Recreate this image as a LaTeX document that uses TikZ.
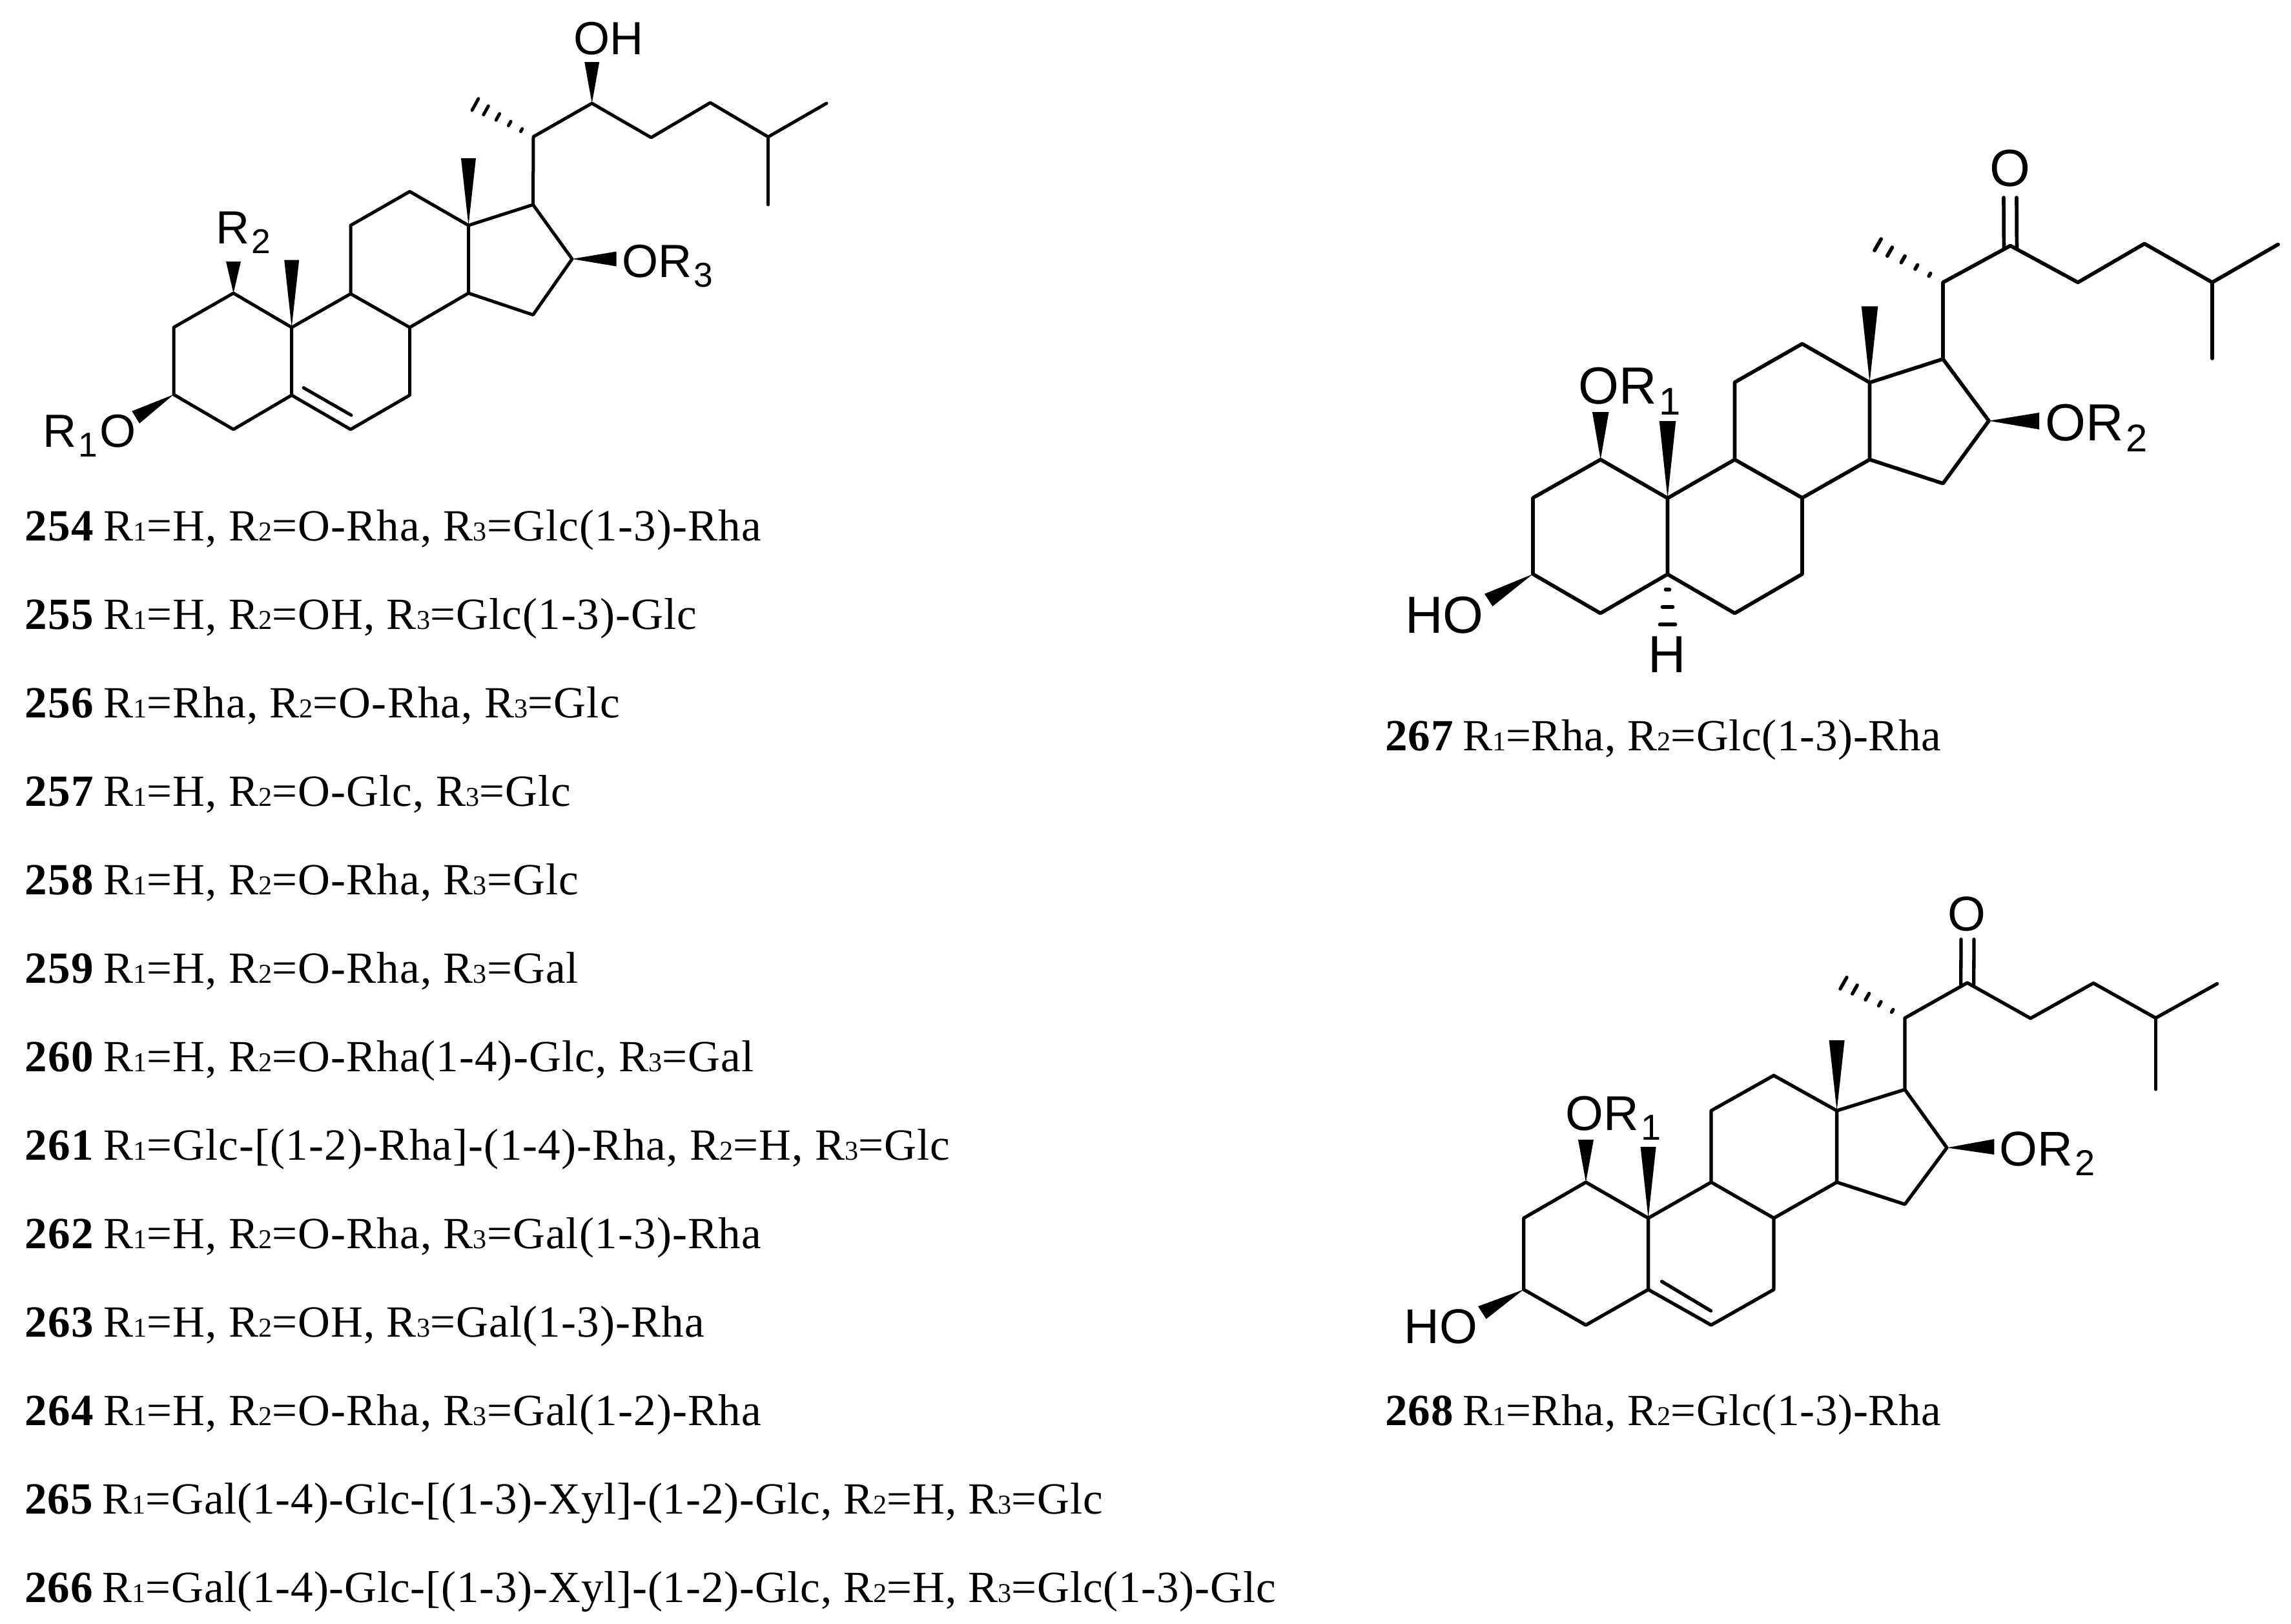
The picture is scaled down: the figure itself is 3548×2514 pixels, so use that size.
\documentclass[tikz,border=0pt]{standalone}
\usepackage{fontspec}
\setmainfont{Liberation Serif}[LetterSpace=1.7]
\newfontfamily\tightfont{Liberation Serif}[LetterSpace=1.2]
\newfontfamily\tighterfont{Liberation Serif}[LetterSpace=1.0]
\newfontfamily\atomfont{Liberation Sans}
\usetikzlibrary{calc}

\newcommand{\nb}[1]{\textbf{#1}\hspace{-.06em}}
\newcommand{\rs}[1]{{\fontsize{12pt}{12pt}\selectfont #1}}
\newcommand{\cs}[1]{\kern.04em\raisebox{-0.21em}{\scalebox{.74}{#1}}\kern.04em}
\newcommand{\hashbond}[3]{%
  \foreach \t/\w in {.2/.024,.4/.037,.6/.057,.8/.077,.98/.102}
    \draw[#3] ($(#1)!\t!(#2)!\w cm!90:(#2)$) -- ($(#1)!\t!(#2)!\w cm!-90:(#2)$);}

\tikzset{
  bonda/.style={line width=.05cm, line join=round, line cap=round},
  bondb/.style={line width=.057cm, line join=round, line cap=round},
  bondc/.style={line width=.053cm, line join=round, line cap=round},
  wedge/.style={fill=black, draw=none},
  atoma/.style={anchor=base west, inner sep=0pt, font=\atomfont\fontsize{20.5pt}{21pt}\selectfont},
  atomb/.style={anchor=base west, inner sep=0pt, font=\atomfont\fontsize{23pt}{24pt}\selectfont},
  atomc/.style={anchor=base west, inner sep=0pt, font=\atomfont\fontsize{21.5pt}{22pt}\selectfont},
  row/.style={anchor=base west, inner sep=0pt, font=\fontsize{19.63pt}{20pt}\selectfont},
  rowt/.style={row, font=\tightfont\fontsize{19.63pt}{20pt}\selectfont},
  rowr/.style={row, font=\tighterfont\fontsize{19.63pt}{20pt}\selectfont}
}

\begin{document}
\begin{tikzpicture}[x=.01cm, y=-.01cm]
  \useasboundingbox (0,0) rectangle (3548,2514);

  % first skeleton, 254-266
  \coordinate (a1) at (361.5,454);
  \coordinate (a2) at (269,507);
  \coordinate (a3) at (269,611);
  \coordinate (a4) at (361.5,665);
  \coordinate (a5) at (451.7,612);
  \coordinate (a6) at (543,665);
  \coordinate (a7) at (634.5,612);
  \coordinate (a8) at (634.5,507);
  \coordinate (a9) at (543,455);
  \coordinate (a10) at (451.7,507);
  \coordinate (a11) at (543,349);
  \coordinate (a12) at (634.5,296.6);
  \coordinate (a13) at (725.5,349);
  \coordinate (a14) at (725.5,454);
  \coordinate (a15) at (825.5,487.6);
  \coordinate (a16) at (886,401);
  \coordinate (a17) at (825.5,317);
  \coordinate (a20) at (826,211.7);
  \coordinate (a21) at (734.2,160.7);
  \coordinate (a22) at (916.7,160);
  \coordinate (a23) at (1008.4,213);
  \coordinate (a24) at (1100,159);
  \coordinate (a25) at (1189.6,212);
  \coordinate (a26) at (1280,160);
  \coordinate (a27) at (1189.6,317);
  \coordinate (a5d) at (470,600.5);
  \coordinate (a6d) at (544,643);
  \coordinate (a18) at (725.5,245);
  \coordinate (a19) at (451.7,402.7);
  \coordinate (a1r) at (361.5,405);
  \coordinate (a22o) at (916.7,96);
  \coordinate (a16o) at (954.6,401);
  \coordinate (a3ou) at (204.3,636.7);
  \coordinate (a3od) at (216,655.7);

  \node[atoma] (r2a) at (334,377) {R\cs{2}};
  \node[atoma] (oha) at (888,84) {OH};
  \node[atoma] (or3a) at (962.5,429) {OR\cs{3}};
  \node[atoma] (r1a) at (66,692.7) {R\cs{1}O};

  % rings and side chain
  \draw[bonda] (a1) -- (a2) -- (a3) -- (a4) -- (a5) -- (a10) -- cycle;
  \draw[bonda] (a5) -- (a6) -- (a7) -- (a8) -- (a9) -- (a10);
  \draw[bonda] (a9) -- (a11) -- (a12) -- (a13) -- (a14) -- (a8);
  \draw[bonda] (a13) -- (a17) -- (a16) -- (a15) -- (a14);
  \draw[bonda] (a17) -- (a20) -- (a22) -- (a23) -- (a24) -- (a25) -- (a26);
  \draw[bonda] (a25) -- (a27);
  \draw[bonda] (a5d) -- (a6d);
  % wedges
  \fill[wedge] (a13) -- ($(a18)+(-11.5,0)$) -- ($(a18)+(11.5,0)$) -- cycle;
  \fill[wedge] (a10) -- ($(a19)+(-11.5,0)$) -- ($(a19)+(11.5,0)$) -- cycle;
  \fill[wedge] (a1) -- ($(a1r)+(-11.5,0)$) -- ($(a1r)+(11.5,0)$) -- cycle;
  \fill[wedge] (a22) -- ($(a22o)+(-11.5,0)$) -- ($(a22o)+(11.5,0)$) -- cycle;
  \fill[wedge] (a16) -- ($(a16o)+(0,-11.5)$) -- ($(a16o)+(0,11.5)$) -- cycle;
  \fill[wedge] (a3) -- (a3ou) -- (a3od) -- cycle;
  \hashbond{a20}{a21}{bonda}

  % second skeleton, 267
  \coordinate (b1) at (2478.7,711.7);
  \coordinate (b2) at (2374,771);
  \coordinate (b3) at (2374,889);
  \coordinate (b4) at (2478.4,949.7);
  \coordinate (b5) at (2582.5,889.3);
  \coordinate (b6) at (2686.5,949.7);
  \coordinate (b7) at (2791,889);
  \coordinate (b8) at (2791,771);
  \coordinate (b9) at (2686.5,711.7);
  \coordinate (b10) at (2582.5,771.5);
  \coordinate (b11) at (2686.5,592);
  \coordinate (b12) at (2791,532.4);
  \coordinate (b13) at (2895.5,592.4);
  \coordinate (b14) at (2895.5,711.7);
  \coordinate (b15) at (3009,748.7);
  \coordinate (b16) at (3080,651.7);
  \coordinate (b17) at (3009,556);
  \coordinate (b20) at (3009,437.3);
  \coordinate (b21) at (2906,377.8);
  \coordinate (b22) at (3113.4,380.5);
  \coordinate (b23) at (3218,437.3);
  \coordinate (b24) at (3321,377.4);
  \coordinate (b25) at (3426,437.3);
  \coordinate (b26) at (3528,378.5);
  \coordinate (b27) at (3426,555);
  \coordinate (b18) at (2895.5,474.3);
  \coordinate (b19) at (2582.5,652);
  \coordinate (b1o) at (2478.7,638);
  \coordinate (b16o) at (3158,652);
  \coordinate (b3ou) at (2299,919.7);
  \coordinate (b3od) at (2311.5,939);
  \coordinate (bo) at (3113,306);

  \node[atomb] (or1b) at (2444,625) {OR\cs{1}};
  \node[atomb] (or2b) at (3167,682) {OR\cs{2}};
  \node[atomb] (hob) at (2175.5,980) {HO};
  \node[atomb, anchor=base] (hb) at (2581.7,1041) {H};
  \node[atomb, anchor=base] (ob) at (3112.5,288) {O};

  \draw[bondb] (b1) -- (b2) -- (b3) -- (b4) -- (b5) -- (b10) -- cycle;
  \draw[bondb] (b5) -- (b6) -- (b7) -- (b8) -- (b9) -- (b10);
  \draw[bondb] (b9) -- (b11) -- (b12) -- (b13) -- (b14) -- (b8);
  \draw[bondb] (b13) -- (b17) -- (b16) -- (b15) -- (b14);
  \draw[bondb] (b17) -- (b20) -- (b22) -- (b23) -- (b24) -- (b25) -- (b26);
  \draw[bondb] (b25) -- (b27);
  % carbonyl
  \draw[bondb] ($(b22)+(-10,3)$) -- ($(bo)+(-10,0)$);
  \draw[bondb] ($(b22)+(10,3)$) -- ($(bo)+(10,0)$);
  % wedges
  \fill[wedge] (b13) -- ($(b18)+(-12.8,0)$) -- ($(b18)+(12.8,0)$) -- cycle;
  \fill[wedge] (b10) -- ($(b19)+(-12.8,0)$) -- ($(b19)+(12.8,0)$) -- cycle;
  \fill[wedge] (b1) -- ($(b1o)+(-12.8,0)$) -- ($(b1o)+(12.8,0)$) -- cycle;
  \fill[wedge] (b16) -- ($(b16o)+(0,-13)$) -- ($(b16o)+(0,13)$) -- cycle;
  \fill[wedge] (b3) -- (b3ou) -- (b3od) -- cycle;
  \hashbond{b20}{b21}{bondb}
  % hydrogen dashes
  \draw[bondb] ($(b5)+(-3,23.5)$) -- ($(b5)+(3,23.5)$);
  \draw[bondb] ($(b5)+(-8,51)$) -- ($(b5)+(8,51)$);
  \draw[bondb] ($(b5)+(-12,78)$) -- ($(b5)+(12,78)$);

  % third skeleton, 268
  \coordinate (c1) at (2456,1830.8);
  \coordinate (c2) at (2359.7,1886.4);
  \coordinate (c3) at (2359.7,1997);
  \coordinate (c4) at (2456,2052);
  \coordinate (c5) at (2552.6,1997);
  \coordinate (c6) at (2650,2052);
  \coordinate (c7) at (2747,1997);
  \coordinate (c8) at (2747,1886.4);
  \coordinate (c9) at (2650,1830.8);
  \coordinate (c10) at (2552.6,1886.4);
  \coordinate (c11) at (2650,1720);
  \coordinate (c12) at (2747,1665.5);
  \coordinate (c13) at (2844.6,1720);
  \coordinate (c14) at (2844.6,1830.8);
  \coordinate (c15) at (2950,1865);
  \coordinate (c16) at (3015,1777.4);
  \coordinate (c17) at (2950,1687.3);
  \coordinate (c20) at (2950,1576.5);
  \coordinate (c21) at (2853,1521.4);
  \coordinate (c22) at (3046.7,1522);
  \coordinate (c23) at (3144.6,1577);
  \coordinate (c24) at (3242,1522.5);
  \coordinate (c25) at (3338.4,1576.5);
  \coordinate (c26) at (3433.5,1523.5);
  \coordinate (c27) at (3338.4,1687);
  \coordinate (c5d) at (2573.5,1984.5);
  \coordinate (c6d) at (2649.5,2030);
  \coordinate (c18) at (2844.6,1611);
  \coordinate (c19) at (2552.6,1776);
  \coordinate (c1o) at (2456,1764.8);
  \coordinate (c16o) at (3088.4,1776);
  \coordinate (c3ou) at (2289,2023);
  \coordinate (c3od) at (2301.6,2042.6);
  \coordinate (co) at (3047,1454.6);

  \node[atomc] (or1c) at (2424,1750) {OR\cs{1}};
  \node[atomc] (or2c) at (3096,1805) {OR\cs{2}};
  \node[atomc] (hoc) at (2174,2080) {HO};
  \node[atomc, anchor=base] (oc) at (3046,1441.5) {O};

  \draw[bondc] (c1) -- (c2) -- (c3) -- (c4) -- (c5) -- (c10) -- cycle;
  \draw[bondc] (c5) -- (c6) -- (c7) -- (c8) -- (c9) -- (c10);
  \draw[bondc] (c9) -- (c11) -- (c12) -- (c13) -- (c14) -- (c8);
  \draw[bondc] (c13) -- (c17) -- (c16) -- (c15) -- (c14);
  \draw[bondc] (c17) -- (c20) -- (c22) -- (c23) -- (c24) -- (c25) -- (c26);
  \draw[bondc] (c25) -- (c27);
  \draw[bondc] (c5d) -- (c6d);
  % carbonyl
  \draw[bondc] ($(c22)+(-10,3)$) -- ($(co)+(-10,0)$);
  \draw[bondc] ($(c22)+(10,3)$) -- ($(co)+(10,0)$);
  % wedges
  \fill[wedge] (c13) -- ($(c18)+(-12,0)$) -- ($(c18)+(12,0)$) -- cycle;
  \fill[wedge] (c10) -- ($(c19)+(-12,0)$) -- ($(c19)+(12,0)$) -- cycle;
  \fill[wedge] (c1) -- ($(c1o)+(-12,0)$) -- ($(c1o)+(12,0)$) -- cycle;
  \fill[wedge] (c16) -- ($(c16o)+(0,-12)$) -- ($(c16o)+(0,12)$) -- cycle;
  \fill[wedge] (c3) -- (c3ou) -- (c3od) -- cycle;
  \hashbond{c20}{c21}{bondc}

  % substituent rows
  \node[row] (r254) at (38,837) {\nb{254} R\rs{1}=H, R\rs{2}=O-Rha, R\rs{3}=Glc(1-3)-Rha};
  \node[row] (r255) at (38,974) {\nb{255} R\rs{1}=H, R\rs{2}=OH, R\rs{3}=Glc(1-3)-Glc};
  \node[row] (r256) at (38,1111) {\nb{256} R\rs{1}=Rha, R\rs{2}=O-Rha, R\rs{3}=Glc};
  \node[row] (r257) at (38,1248) {\nb{257} R\rs{1}=H, R\rs{2}=O-Glc, R\rs{3}=Glc};
  \node[row] (r258) at (38,1385) {\nb{258} R\rs{1}=H, R\rs{2}=O-Rha, R\rs{3}=Glc};
  \node[row] (r259) at (38,1522) {\nb{259} R\rs{1}=H, R\rs{2}=O-Rha, R\rs{3}=Gal};
  \node[row] (r260) at (38,1659) {\nb{260} R\rs{1}=H, R\rs{2}=O-Rha(1-4)-Glc, R\rs{3}=Gal};
  \node[row] (r261) at (38,1796) {\nb{261} R\rs{1}=Glc-[(1-2)-Rha]-(1-4)-Rha, R\rs{2}=H, R\rs{3}=Glc};
  \node[row] (r262) at (38,1933) {\nb{262} R\rs{1}=H, R\rs{2}=O-Rha, R\rs{3}=Gal(1-3)-Rha};
  \node[row] (r263) at (38,2070) {\nb{263} R\rs{1}=H, R\rs{2}=OH, R\rs{3}=Gal(1-3)-Rha};
  \node[row] (r264) at (38,2207) {\nb{264} R\rs{1}=H, R\rs{2}=O-Rha, R\rs{3}=Gal(1-2)-Rha};
  \node[rowt] (r265) at (38,2344) {\nb{265} R\rs{1}=Gal(1-4)-Glc-[(1-3)-Xyl]-(1-2)-Glc, R\rs{2}=H, R\rs{3}=Glc};
  \node[rowt] (r266) at (38,2481) {\nb{266} R\rs{1}=Gal(1-4)-Glc-[(1-3)-Xyl]-(1-2)-Glc, R\rs{2}=H, R\rs{3}=Glc(1-3)-Glc};
  \node[rowr] (r267) at (2145,1162) {\nb{267} R\rs{1}=Rha, R\rs{2}=Glc(1-3)-Rha};
  \node[rowr] (r268) at (2145,2207) {\nb{268} R\rs{1}=Rha, R\rs{2}=Glc(1-3)-Rha};
\end{tikzpicture}
\end{document}
